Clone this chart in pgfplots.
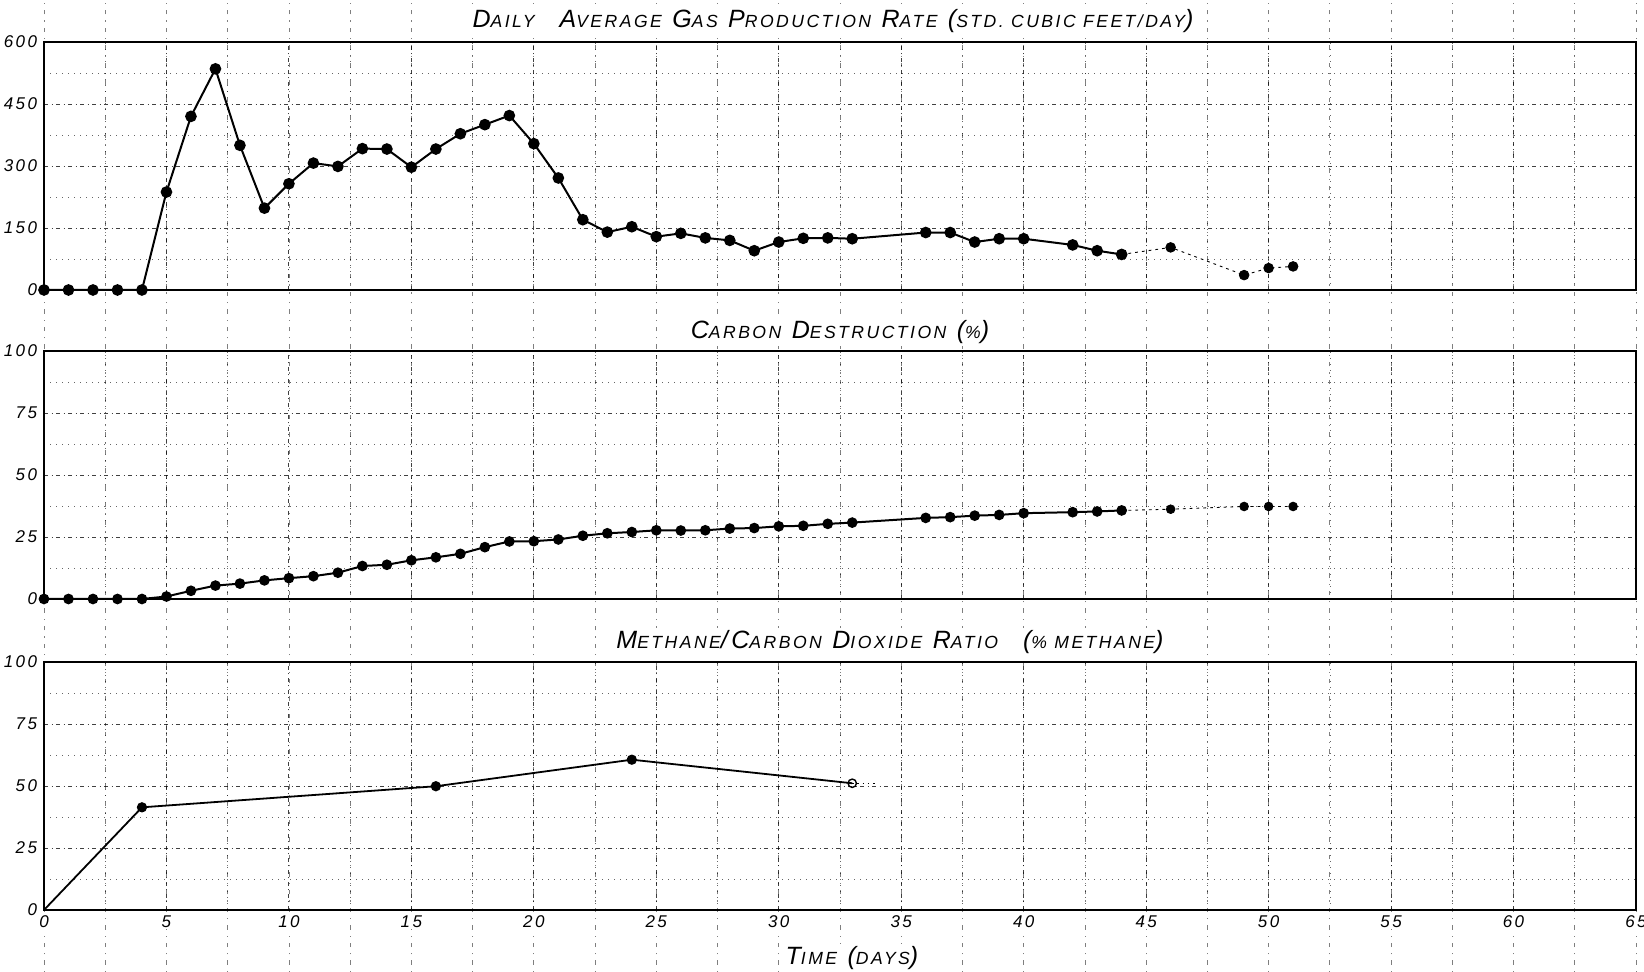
\documentclass[border=0pt]{standalone}
\usepackage{fontspec}
\setmainfont{Liberation Sans}
\newfontfamily\hand{Liberation Sans}[LetterSpace=14]
\usepackage{pgfplots}
\pgfplotsset{compat=1.18}

% hand-lettered small caps: large initial, smaller remainder
\newcommand\SC[2]{#1{\fontsize{8.8}{10}\selectfont #2}}
\newcommand\sm[1]{{\fontsize{8.8}{10}\selectfont #1}}

% daily average gas production rate (std. cubic feet/day)
\pgfplotstableread{
day gas
0 0
1 0
2 0
3 0
4 0
5 237
6 420
7 535
8 350
9 198
10 257
11 307
12 299
13 342
14 341
15 297
16 341
17 378
18 400
19 422
20 354
21 271
22 170
23 140
24 153
25 129
26 137
27 126
28 120
29 95
30 116
31 125
32 126
33 124
36 139
37 139
38 116
39 124
40 124
42 109
43 95
44 86
}\gasA
\pgfplotstableread{
day gas
44 86
46 103
49 36
50 53
51 57
}\gasB

% carbon destruction (%)
\pgfplotstableread{
day cd
0 0
1 0
2 0
3 0
4 0
5 1
6 3.3
7 5.4
8 6.2
9 7.5
10 8.4
11 9.2
12 10.6
13 13.3
14 13.8
15 15.6
16 16.8
17 18.2
18 20.9
19 23.2
20 23.3
21 24.0
22 25.5
23 26.5
24 27.0
25 27.7
26 27.6
27 27.7
28 28.4
29 28.6
30 29.3
31 29.5
32 30.3
33 30.8
36 32.7
37 33.0
38 33.6
39 33.9
40 34.6
42 35.0
43 35.3
44 35.7
}\cdA
\pgfplotstableread{
day cd
44 35.7
46 36.2
49 37.3
50 37.3
51 37.3
}\cdB

% methane / carbon dioxide ratio (% methane)
\pgfplotstableread{
day ch4
0 0
4 41.4
16 49.9
24 60.6
33 51.1
}\meth

\pgfplotsset{
  paper/.style={
    scale only axis, width=796pt, height=124pt,
    xmin=0, xmax=65,
    xtick={0,5,...,65}, minor x tick num=1,
    minor y tick num=1,
    grid=both,
    major grid style={black, line width=0.45pt, dash pattern=on 2.2pt off 1.6pt on 0.6pt off 1.6pt, opacity=0.75},
    minor grid style={black, line width=0.35pt, dash pattern=on 0.6pt off 2.4pt, opacity=0.6},
    axis line style={line width=1.15pt},
    major tick length=0pt, minor tick length=0pt,
    tick label style={font=\hand\itshape\fontsize{8.5}{9}\selectfont, fill=white, inner sep=0.8pt},
    /pgf/number format/assume math mode=true,
    yticklabel style={xshift=-2.5pt, yshift=0pt},
    xticklabel style={yshift=-2pt},
    clip=false,
  },
  dat/.style={black, line width=1pt, mark=*, mark size=2.4pt, mark options={solid, fill=black}},
  ext/.style={black, line width=0.45pt, dash pattern=on 1.4pt off 2pt, mark=*, mark size=2.4pt, mark options={solid, fill=black}},
}

\begin{document}
\begin{tikzpicture}
\path[use as bounding box] (0pt,0pt) rectangle (822pt,486pt);

% graph paper continuing outside the frames
\begin{axis}[at={(0pt,0pt)}, anchor=south west, scale only axis, width=822pt, height=486pt,
  xmin=-1.797, xmax=65.33, ymin=0, ymax=486,
  axis line style={draw=none}, tick style={draw=none},
  xtick={-2.5,0,...,65}, ytick=\empty, xmajorgrids,
  xticklabels={}, yticklabels={},
  major grid style={black, line width=0.35pt, dash pattern=on 0.6pt off 3pt on 2.2pt off 3pt, opacity=0.5}]
\end{axis}

% daily average gas production rate
\begin{axis}[paper, at={(22pt,341pt)}, anchor=south west,
  ymin=0, ymax=600, ytick={0,150,...,600}, xticklabels={}]
\addplot[dat] table[x=day,y=gas]{\gasA};
\addplot[ext] table[x=day,y=gas]{\gasB};
\end{axis}

% carbon destruction
\begin{axis}[paper, at={(22pt,186.5pt)}, anchor=south west,
  ymin=0, ymax=100, ytick={0,25,...,100}, xticklabels={}]
\addplot[dat, mark size=2.15pt] table[x=day,y=cd]{\cdA};
\addplot[ext, mark size=2.15pt] table[x=day,y=cd]{\cdB};
\end{axis}

% methane / carbon dioxide ratio
\begin{axis}[paper, at={(22pt,31pt)}, anchor=south west,
  ymin=0, ymax=100, ytick={0,25,...,100}]
\addplot[black, line width=0.9pt, mark=*, mark size=2.1pt, mark options={fill=black},
  mark indices={2,3,4}] table[x=day,y=ch4]{\meth};
\addplot[black, line width=0.7pt, mark=o, mark size=2.1pt] coordinates {(33,51.1)};
\addplot[black, line width=0.45pt, dash pattern=on 0.8pt off 1.8pt] coordinates {(33,51.1) (34,51.1)};
\end{axis}

% titles
\node[font=\hand\itshape\fontsize{12.5}{14}\selectfont, fill=white, inner sep=1pt] at (416.5pt,475.5pt)
  {\SC{D}{AILY}\quad\SC{A}{VERAGE} \SC{G}{AS} \SC{P}{RODUCTION} \SC{R}{ATE} (\sm{STD. CUBIC FEET/DAY})};
\node[font=\hand\itshape\fontsize{12.5}{14}\selectfont, fill=white, inner sep=1pt] at (420pt,320pt)
  {\SC{C}{ARBON} \SC{D}{ESTRUCTION} (\sm{\%})};
\node[font=\hand\itshape\fontsize{12.5}{14}\selectfont, fill=white, inner sep=1pt] at (445pt,165pt)
  {\SC{M}{ETHANE}/\SC{C}{ARBON} \SC{D}{IOXIDE} \SC{R}{ATIO}\quad(\sm{\% METHANE})};
\node[font=\hand\itshape\fontsize{12.5}{14}\selectfont, fill=white, inner sep=1pt] at (426pt,7pt)
  {\SC{T}{IME} (\sm{DAYS})};
\end{tikzpicture}
\end{document}
